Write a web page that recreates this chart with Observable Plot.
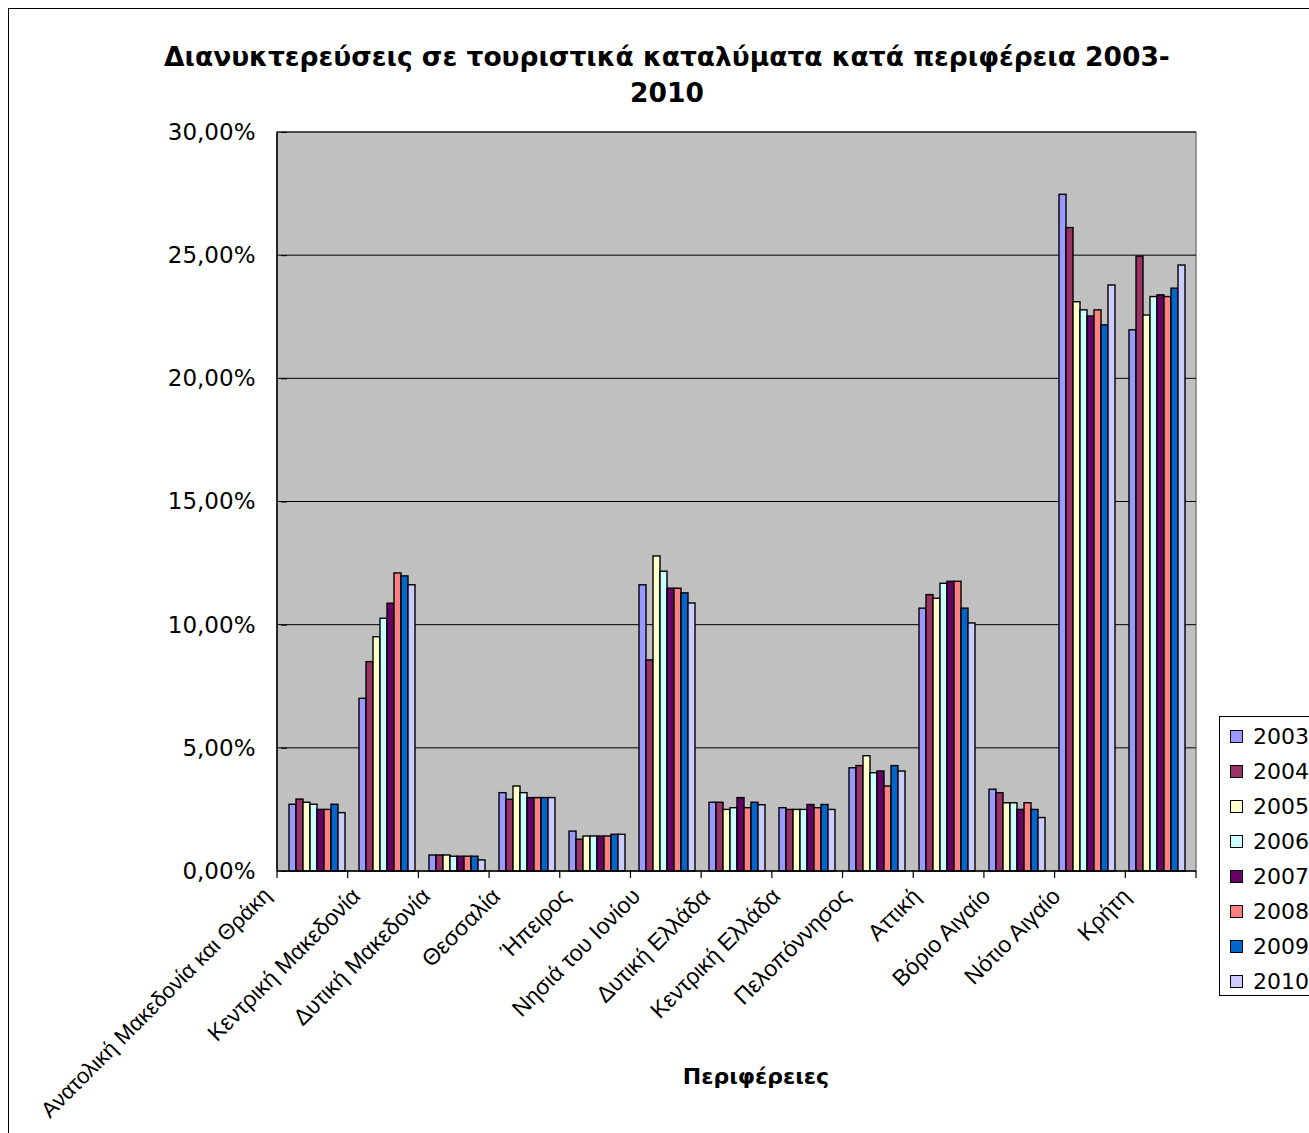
<!DOCTYPE html>
<html><head><meta charset="utf-8">
<script src="https://cdn.jsdelivr.net/npm/d3@7"></script>
<script src="https://cdn.jsdelivr.net/npm/@observablehq/plot@0.6"></script>
<style>
body{margin:0;background:#fff;overflow:hidden}
#wrap{position:relative;width:1309px;height:1133px;overflow:hidden;font-family:"DejaVu Sans",sans-serif;background:#fff}
#border{position:absolute;left:8px;top:8px;width:1400px;height:1200px;border:1.5px solid #000}
#title{position:absolute;left:0;width:1334px;top:39px;text-align:center;font-weight:bold;font-size:26.5px;line-height:36px;color:#000}
#xtitle{position:absolute;left:0;width:1512px;top:1064px;text-align:center;font-weight:bold;font-size:22px;color:#000}
#legend{position:absolute;left:1219px;top:716px;width:120px;height:280px;border:1.2px solid #000;background:#fff;padding-top:2px;box-sizing:border-box}
.li{height:35px;display:flex;align-items:center;font-size:22px;color:#000}
.sw{width:11px;height:11px;border:1.5px solid #000;margin-left:10px;margin-right:10px}
#chart{position:absolute;left:0;top:0}
</style></head>
<body>
<div id="wrap">
<div id="border"></div>
<div id="chart"></div>
<div id="title">Διανυκτερεύσεις σε τουριστικά καταλύματα κατά περιφέρεια 2003-<br>2010</div>
<div id="xtitle">Περιφέρειες</div>
<div id="legend"></div>
</div>
<script>
const regions = ["Ανατολική Μακεδονία και Θράκη","Κεντρική Μακεδονία","Δυτική Μακεδονία","Θεσσαλία","Ήπειρος","Νησιά του Ιονίου","Δυτική Ελλάδα","Κεντρική Ελλάδα","Πελοπόννησος","Αττική","Βόριο Αιγαίο","Νότιο Αιγαίο","Κρήτη"];
const years = ["2003","2004","2005","2006","2007","2008","2009","2010"];
const colors = ["#9999FF","#993366","#FFFFCC","#CCFFFF","#660066","#FF8080","#0066CC","#CCCCFF"];
const v2003 = [2.71, 7.01, 0.65, 3.18, 1.62, 11.62, 2.79, 2.57, 4.19, 10.67, 3.32, 27.47, 21.97];
const v2004 = [2.92, 8.50, 0.65, 2.91, 1.29, 8.57, 2.79, 2.50, 4.28, 11.22, 3.18, 26.12, 24.96];
const v2005 = [2.79, 9.51, 0.65, 3.45, 1.42, 12.79, 2.50, 2.50, 4.68, 11.07, 2.77, 23.11, 22.57];
const v2006 = [2.71, 10.26, 0.60, 3.18, 1.42, 12.17, 2.57, 2.50, 3.99, 11.68, 2.77, 22.78, 23.32];
const v2007 = [2.50, 10.87, 0.60, 2.98, 1.42, 11.48, 2.98, 2.70, 4.06, 11.76, 2.50, 22.53, 23.39];
const v2008 = [2.50, 12.10, 0.60, 2.98, 1.42, 11.48, 2.57, 2.57, 3.45, 11.76, 2.77, 22.78, 23.32];
const v2009 = [2.71, 11.98, 0.60, 2.98, 1.49, 11.29, 2.79, 2.70, 4.28, 10.67, 2.50, 22.17, 23.66];
const v2010 = [2.37, 11.62, 0.45, 2.98, 1.49, 10.88, 2.69, 2.50, 4.06, 10.07, 2.17, 23.79, 24.60];
const yTicks = [0, 5, 10, 15, 20, 25, 30];

const series = [v2003, v2004, v2005, v2006, v2007, v2008, v2009, v2010];
const data = [];
regions.forEach((r, i) => years.forEach((yr, j) => data.push({region: r, year: yr, value: series[j][i]})));

const fmt = d => d.toFixed(2).replace(".", ",") + "%";
const fxLabelStyle = {anchor: "bottom", tickRotate: -45, tickSize: 0, tickPadding: 6, fontFamily: "Liberation Sans, Arial, sans-serif", label: null};

const chart = Plot.plot({
  width: 1309, height: 1133,
  marginTop: 132, marginLeft: 277, marginRight: 113, marginBottom: 262,
  style: {background: "transparent", fontFamily: "DejaVu Sans, sans-serif", fontSize: "21px", color: "#000", overflow: "visible"},
  fx: {domain: regions, paddingInner: 0.15, paddingOuter: 0.075},
  x: {domain: years, padding: 0, axis: null},
  y: {domain: [0, 30]},
  color: {domain: years, range: colors},
  marks: [
    Plot.axisY({anchor: "left", ticks: yTicks, tickFormat: fmt, tickSize: 6, tickPadding: 26, fontSize: 23, label: null, stroke: "#000"}),
    Plot.axisFx({...fxLabelStyle, ticks: regions.slice(0, 1), fontSize: 22, dx: -50, dy: 14}),
    Plot.axisFx({...fxLabelStyle, ticks: regions.slice(1), fontSize: 23, dx: -31, dy: 15}),
    Plot.barY(data, {fx: "region", x: "year", y: "value", fill: "year", stroke: "#000", strokeWidth: 1.4})
  ]
});
document.getElementById("chart").appendChild(chart);

// background, grid and axis lines drawn from the chart's own scales
const fxS = chart.scale("fx"), yS = chart.scale("y");
const fxB = d3.scaleBand().domain(fxS.domain).range(fxS.range).paddingInner(fxS.paddingInner ?? 0.15).paddingOuter(fxS.paddingOuter ?? 0.075);
const yL = d3.scaleLinear().domain(yS.domain).range(yS.range);
const [x0, x1] = fxS.range;
const ns = "http://www.w3.org/2000/svg";
const bgNode = document.createElementNS(ns, "g");
chart.insertBefore(bgNode, chart.firstChild.nextSibling);
const gb = d3.select(bgNode);
gb.append("rect").attr("x", x0).attr("y", yL(30)).attr("width", x1 - x0).attr("height", yL(0) - yL(30))
  .attr("fill", "#C0C0C0").attr("stroke", "#808080").attr("stroke-width", 1.5);
gb.selectAll("line").data(yTicks.filter(v => v > 0)).join("line")
  .attr("x1", x0).attr("x2", x1).attr("y1", d => yL(d)).attr("y2", d => yL(d))
  .attr("stroke", "#000").attr("stroke-width", 1);
const stepW = fxB.step();
const bounds = regions.map(r => fxB(r) - (stepW - fxB.bandwidth()) / 2).concat([x1]);
const fgNode = document.createElementNS(ns, "g");
chart.appendChild(fgNode);
const gf = d3.select(fgNode);
gf.selectAll("line.bt").data(bounds).join("line").attr("class", "bt")
  .attr("x1", d => d).attr("x2", d => d).attr("y1", yL(0)).attr("y2", yL(0) + 7)
  .attr("stroke", "#000").attr("stroke-width", 1.2);
gf.append("line").attr("x1", x0).attr("x2", x1).attr("y1", yL(0)).attr("y2", yL(0)).attr("stroke", "#000").attr("stroke-width", 1.5);
gf.append("line").attr("x1", x0).attr("x2", x0).attr("y1", yL(0)).attr("y2", yL(30)).attr("stroke", "#000").attr("stroke-width", 1.5);

// legend
const lg = d3.select("#legend");
years.forEach((yr, i) => {
  const row = lg.append("div").attr("class", "li");
  row.append("div").attr("class", "sw").style("background", colors[i]);
  row.append("span").text(yr);
});
</script>
</body></html>
